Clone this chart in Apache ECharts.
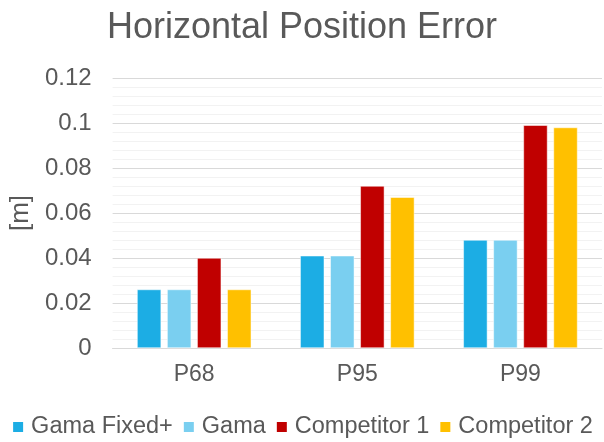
<!DOCTYPE html>
<html>
<head>
<meta charset="utf-8">
<script src="https://cdn.jsdelivr.net/npm/echarts@6/dist/echarts.min.js"></script>
<style>
  html, body { margin: 0; padding: 0; background: #fff; }
  #chart { width: 604px; height: 442px; }
</style>
</head>
<body>
<div id="chart"></div>
<script>
var categories = ['P68', 'P95', 'P99'];
var seriesNames = ['Gama Fixed+', 'Gama', 'Competitor 1', 'Competitor 2'];
var gamaFixed = [0.026, 0.041, 0.048];
var gama = [0.026, 0.041, 0.048];
var competitor1 = [0.040, 0.072, 0.099];
var competitor2 = [0.026, 0.067, 0.098];
var colors = ['#1cade4', '#7acff0', '#c00000', '#ffc000'];

var FONT = '"Liberation Sans", Arial, sans-serif';
var chart = echarts.init(document.getElementById('chart'));
var values = [gamaFixed, gama, competitor1, competitor2];

chart.setOption({
  animation: false,
  textStyle: { fontFamily: FONT },
  title: {
    text: 'Horizontal Position Error',
    left: 'center',
    top: 5,
    textStyle: { color: '#595959', fontSize: 36, fontWeight: 'normal', fontFamily: FONT }
  },
  legend: {
    bottom: -2,
    left: 'center',
    itemWidth: 12,
    itemHeight: 12,
    itemGap: 9,
    icon: 'rect',
    textStyle: { color: '#595959', fontSize: 23.5, fontFamily: FONT, padding: [0, 0, 0, 2] },
    data: seriesNames
  },
  grid: { left: 110, right: 2, top: 78, bottom: 94 },
  xAxis: {
    type: 'category',
    data: categories,
    axisLine: { lineStyle: { color: '#d9d9d9', width: 1 } },
    axisTick: { show: false },
    axisLabel: { color: '#595959', fontSize: 23, margin: 15 }
  },
  yAxis: {
    type: 'value',
    min: 0,
    max: 0.12,
    interval: 0.02,
    name: '[m]',
    nameLocation: 'middle',
    nameGap: 73,
    nameTextStyle: { color: '#595959', fontSize: 26 },
    axisLine: { show: false },
    axisTick: { show: false },
    axisLabel: { color: '#595959', fontSize: 24, margin: 21 },
    splitLine: { lineStyle: { color: '#d9d9d9', width: 1 } },
    minorTick: { show: false, splitNumber: 5 },
    minorSplitLine: { show: true, lineStyle: { color: '#f2f2f2', width: 1 } }
  },
  series: seriesNames.map(function (name, i) {
    return {
      name: name,
      type: 'bar',
      data: values[i],
      barGap: '25%',
      barCategoryGap: '30%',
      itemStyle: { color: colors[i], borderColor: '#ffffff', borderWidth: 0.5 }
    };
  })
});
</script>
</body>
</html>
